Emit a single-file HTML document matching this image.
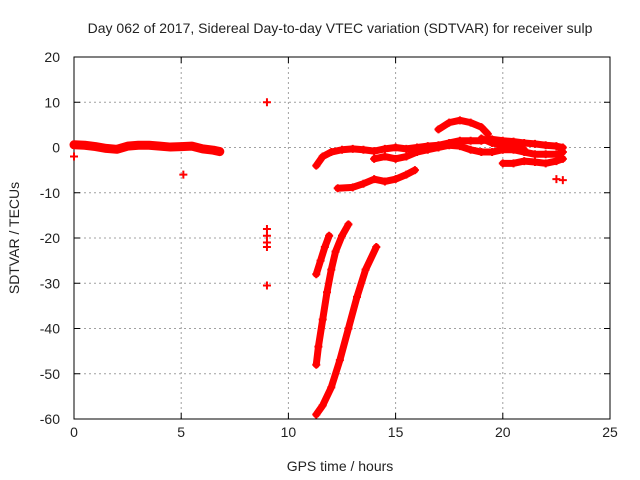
<!DOCTYPE html>
<html><head><meta charset="utf-8"><style>
body{margin:0;background:#fff;}
svg{display:block;font-family:"Liberation Sans",sans-serif;}
</style></head><body>
<svg id="chart" width="640" height="480" viewBox="0 0 640 480"></svg>
<script>
const xTicks=[0,5,10,15,20,25];
const yTicks=[20,10,0,-10,-20,-30,-40,-50,-60];
const segA=[[0,0.6],[0.5,0.5],[1,0.2],[1.5,-0.2],[2,-0.4],[2.5,0.3],[3,0.5],[3.5,0.5],[4,0.3],[4.5,0.1],[5,0.2],[5.5,0.3],[6,-0.3],[6.5,-0.6],[6.8,-0.9]];
const strays=[[0,-2],[5.1,-6],[9,10],[9,-18],[9,-19.5],[9,-21],[9,-22],[9,-30.5],[22.5,-7],[22.8,-7.2]];
const segB=[[11.3,-28],[11.5,-25],[11.7,-22],[11.9,-19.5]];
const segC=[[11.3,-48],[11.4,-44],[11.6,-38],[11.8,-32],[12,-27],[12.2,-23],[12.5,-19.5],[12.8,-17]];
const segD=[[11.3,-59],[11.6,-57],[12,-53],[12.4,-47],[12.8,-40],[13.2,-33],[13.6,-27],[14.1,-22]];
const segE=[[11.3,-4],[11.6,-2],[12,-1],[12.5,-0.5],[13,-0.3],[13.5,-0.5],[14,-0.8],[14.5,-0.3],[15,0],[15.5,-0.3],[16,0],[16.5,0.3],[17,0.5],[17.5,1],[18,1.5],[18.5,1.5],[19,1.5],[19.5,1.8],[20,1.5],[20.5,1.3],[21,1],[21.5,0.8],[22,0.5],[22.5,0.3],[22.8,0]];
const segF=[[14,-2.5],[14.5,-2],[15,-2.5],[15.5,-2],[16,-1],[16.5,-0.5],[17,0],[17.5,0.5],[18,0.3],[18.5,-0.5],[19,-1],[19.5,-1],[20,-0.5],[20.5,-0.5],[21,-1],[21.5,-1.5],[22,-1.5],[22.5,-1.5],[22.8,-1]];
const segG=[[12.3,-9],[13,-8.8],[13.5,-8],[14,-7],[14.5,-7.5],[15,-7],[15.5,-6],[15.9,-5]];
const segH=[[17,4],[17.5,5.5],[18,6],[18.5,5.5],[19,4.5],[19.3,3]];
const segI=[[20,-3.5],[20.5,-3.5],[21,-3],[21.5,-3.2],[22,-3.5],[22.5,-3],[22.8,-2.5]];
const segK=[[19,2],[19.5,1],[20,0.5],[20.5,0],[21,-0.5]];
const segs=[segA,segB,segC,segD,segE,segF,segG,segH,segI,segK];

const L=74,R=610,T=57,B=419;
const xs=v=>L+(v-0)/25*(R-L);
const ys=v=>T+(20-v)/80*(B-T);
const NS="http://www.w3.org/2000/svg";
const svg=document.getElementById('chart');
function mk(tag,attrs,parent){const e=document.createElementNS(NS,tag);for(const k in attrs)e.setAttribute(k,attrs[k]);(parent||svg).appendChild(e);return e;}

const grid=mk('g',{});


xTicks.forEach(t=>{
  if(t>0&&t<25){const l=mk('line',{x1:xs(t),x2:xs(t),y1:T,y2:B,stroke:'#a0a0a0','stroke-dasharray':'2,3'},grid);
  }
  mk('path',{d:`M${xs(t)},${B}v-6M${xs(t)},${T}v6`,stroke:'#000'},grid);
  const tk=mk('text',{x:xs(t),y:B+18,'text-anchor':'middle','font-size':'14',fill:'#222'});
  tk.textContent=t;
  
  
});
yTicks.forEach(t=>{
  if(t<20&&t>-60){const l=mk('line',{x1:L,x2:R,y1:ys(t),y2:ys(t),stroke:'#a0a0a0','stroke-dasharray':'2,3'},grid);
  }
  mk('path',{d:`M${L},${ys(t)}h6M${R},${ys(t)}h-6`,stroke:'#000'},grid);
  const tk=mk('text',{x:L-14,y:ys(t)+5,'text-anchor':'end','font-size':'14',fill:'#222'});
  tk.textContent=t;
  
  
});
const fr=mk('rect',{x:L,y:T,width:R-L,height:B-T,fill:'none',stroke:'#000','stroke-width':'1'});



const series=mk('g',{});


function plus(x,y){mk('path',{d:`M${x-4},${y}H${x+4}M${x},${y-4}V${y+4}`,stroke:'#f00','stroke-width':'2'},series);}
segs.forEach((s,i)=>{
  const p=mk('polyline',{points:s.map(d=>xs(d[0])+','+ys(d[1])).join(' '),fill:'none',stroke:'#f00','stroke-width':i===0?'9':'7','stroke-linejoin':'round','stroke-linecap':'round'},series);
  
  
  s.forEach(d=>plus(xs(d[0]),ys(d[1])));
});
strays.forEach(d=>{plus(xs(d[0]),ys(d[1]));});

const title=mk('text',{x:340,y:33,'text-anchor':'middle','font-size':'14',fill:'#222'});
title.textContent='Day 062 of 2017, Sidereal Day-to-day VTEC variation (SDTVAR) for receiver sulp';


const xt=mk('text',{x:340,y:471,'text-anchor':'middle','font-size':'14',fill:'#222'});
xt.textContent='GPS time / hours';


const yt=mk('text',{x:0,y:0,'text-anchor':'middle','font-size':'14',fill:'#222',transform:'translate(19,238) rotate(-90)'});
yt.textContent='SDTVAR / TECUs';


</script>
</body></html>
